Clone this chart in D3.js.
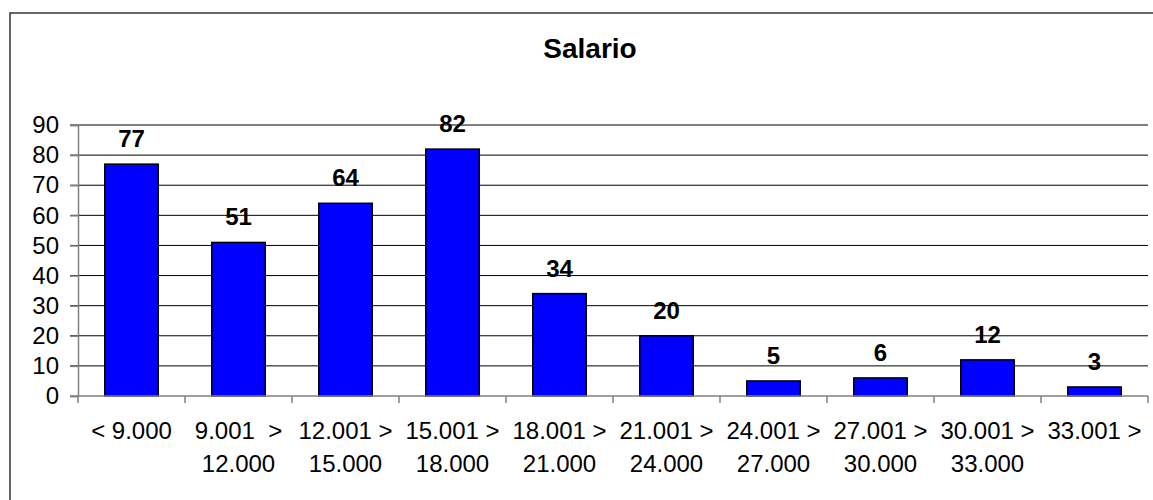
<!DOCTYPE html>
<html>
<head>
<meta charset="utf-8">
<script src="https://cdn.jsdelivr.net/npm/d3@7"></script>
<style>
  body { margin: 0; background: #fff; }
  text { font-family: "Liberation Sans", Arial, sans-serif; fill: #000; }
</style>
</head>
<body>
<div id="plot"></div>
<script>
// data
let categoriesTop = ['< 9.000', '9.001  >', '12.001 >', '15.001 >', '18.001 >', '21.001 >', '24.001 >', '27.001 >', '30.001 >', '33.001 >'];
let categoriesBottom = ['', '12.000', '15.000', '18.000', '21.000', '24.000', '27.000', '30.000', '33.000', ''];
let values = [77, 51, 64, 82, 34, 20, 5, 6, 12, 3];
let yTicks = [0, 10, 20, 30, 40, 50, 60, 70, 80, 90];
let title = 'Salario';

let svgWidth = 1153;
let svgHeight = 500;

let plot = { left: 78, right: 1148, top: 125, bottom: 396 };

let $svg = d3.select('#plot')
    .append('svg')
    .attr('width', svgWidth)
    .attr('height', svgHeight);

// chart area border (runs off right/bottom edge)
$svg.append('rect')
    .attr('x', 10)
    .attr('y', 13)
    .attr('width', 1160)
    .attr('height', 500)
    .attr('fill', 'none')
    .attr('stroke', '#333')
    .attr('stroke-width', 1.5);

let xScale = d3.scaleBand()
    .domain(d3.range(values.length))
    .range([plot.left, plot.right])
    .paddingInner(0.5)
    .paddingOuter(0.25);

let yScale = d3.scaleLinear()
    .domain([0, 90])
    .range([plot.bottom, plot.top]);

// gridlines
$svg.append('g')
    .selectAll('line')
    .data(yTicks.filter(d => d > 0))
    .enter()
    .append('line')
    .attr('x1', plot.left - 8)
    .attr('x2', plot.right)
    .attr('y1', d => yScale(d))
    .attr('y2', d => yScale(d))
    .attr('stroke', '#000')
    .attr('stroke-width', 1);

// y axis
let leftAxis = d3.axisLeft(yScale)
    .tickValues(yTicks)
    .tickSize(8)
    .tickPadding(11);

let yAxisG = $svg.append('g')
    .attr('transform', `translate(${plot.left}, 0)`)
    .call(leftAxis);
yAxisG.select('.domain').attr('stroke', '#808080').attr('stroke-width', 1.5);
yAxisG.selectAll('.tick line').attr('stroke', '#808080').attr('stroke-width', 1.5);
yAxisG.selectAll('.tick text')
    .style('font-family', '"Liberation Sans", Arial, sans-serif')
    .style('font-size', '24px')
    .attr('fill', '#000');

// bars
$svg.append('g')
    .selectAll('rect')
    .data(values)
    .enter()
    .append('rect')
    .attr('x', (d, i) => xScale(i))
    .attr('y', d => yScale(d))
    .attr('width', xScale.bandwidth())
    .attr('height', d => plot.bottom - yScale(d))
    .attr('fill', '#0000ff')
    .attr('stroke', '#000')
    .attr('stroke-width', 1.5);

// x axis line and category ticks
let step = xScale.step();
let xAxisG = $svg.append('g');
xAxisG.append('line')
    .attr('x1', plot.left - 8)
    .attr('x2', plot.right)
    .attr('y1', plot.bottom)
    .attr('y2', plot.bottom)
    .attr('stroke', '#808080')
    .attr('stroke-width', 1.5);
xAxisG.selectAll('.xtick')
    .data(d3.range(values.length + 1))
    .enter()
    .append('line')
    .attr('class', 'xtick')
    .attr('x1', i => plot.left + i * step)
    .attr('x2', i => plot.left + i * step)
    .attr('y1', plot.bottom)
    .attr('y2', plot.bottom + 7)
    .attr('stroke', '#808080')
    .attr('stroke-width', 1.5);

// category labels (two lines)
let labelG = $svg.append('g')
    .attr('text-anchor', 'middle')
    .style('font-size', '24px');

labelG.selectAll('.cat1')
    .data(categoriesTop)
    .enter()
    .append('text')
    .attr('class', 'cat1')
    .attr('xml:space', 'preserve')
    .style('white-space', 'pre')
    .attr('x', (d, i) => xScale(i) + xScale.bandwidth() / 2)
    .attr('y', 439)
    .text(d => d);

labelG.selectAll('.cat2')
    .data(categoriesBottom)
    .enter()
    .append('text')
    .attr('class', 'cat2')
    .attr('x', (d, i) => xScale(i) + xScale.bandwidth() / 2)
    .attr('y', 472)
    .text(d => d);

// value labels
$svg.append('g')
    .selectAll('text')
    .data(values)
    .enter()
    .append('text')
    .attr('x', (d, i) => xScale(i) + xScale.bandwidth() / 2)
    .attr('y', d => yScale(d) - 17)
    .attr('text-anchor', 'middle')
    .style('font-size', '24px')
    .style('font-weight', 'bold')
    .text(d => d);

// title
$svg.append('text')
    .attr('x', 590)
    .attr('y', 58)
    .attr('text-anchor', 'middle')
    .style('font-size', '28px')
    .style('font-weight', 'bold')
    .text(title);
</script>
</body>
</html>
